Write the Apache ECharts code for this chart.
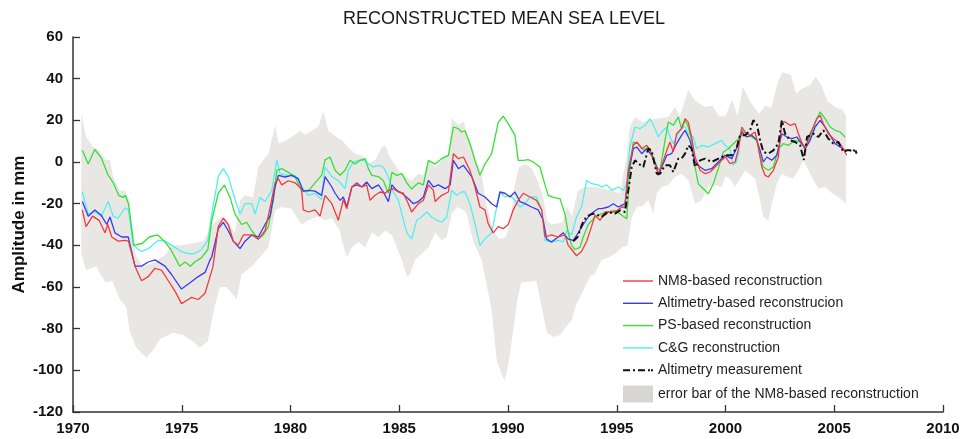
<!DOCTYPE html>
<html>
<head>
<meta charset="utf-8">
<script src="https://cdn.jsdelivr.net/npm/echarts@6/dist/echarts.min.js"></script>
<style>
html,body{margin:0;padding:0;background:#fff;}
#chart{width:962px;height:439px;}
</style>
</head>
<body>
<div id="chart"></div>
<script>
// ---- DATA: [year, mm] ----
const nm8 = [[1970.43,-23],[1970.6,-31],[1970.9,-26],[1971.2,-28],[1971.47,-34],[1971.6,-30],[1971.78,-36],[1972.08,-38],[1972.39,-37.6],[1972.55,-38],[1972.85,-50],[1973.15,-57],[1973.46,-55],[1973.77,-51],[1974.08,-52],[1974.38,-57],[1974.69,-62],[1974.99,-68],[1975.3,-66],[1975.45,-65],[1975.76,-66],[1976.07,-63],[1976.3,-55],[1976.44,-50],[1976.68,-31],[1976.91,-27],[1977.14,-30],[1977.37,-38],[1977.6,-40],[1977.83,-35],[1978.22,-35],[1978.52,-37],[1978.83,-33],[1979.06,-22],[1979.29,-10],[1979.44,-8],[1979.6,-11],[1979.9,-9],[1980.21,-10],[1980.51,-13],[1980.59,-23],[1980.82,-24],[1981.13,-23],[1981.36,-26],[1981.59,-16],[1981.9,-20],[1982.2,-28],[1982.43,-18],[1982.59,-22.4],[1982.82,-12],[1983.05,-10],[1983.28,-12],[1983.5,-11],[1983.66,-18.4],[1983.89,-16],[1984.12,-14.4],[1984.35,-15],[1984.5,-13.6],[1984.73,-12.8],[1984.96,-14.4],[1985.19,-15],[1985.42,-20],[1985.57,-24],[1985.88,-20],[1986.11,-18.4],[1986.34,-11],[1986.57,-13.6],[1986.65,-19],[1986.95,-16],[1987.26,-14.4],[1987.49,4],[1987.72,1.6],[1987.95,2.4],[1988.02,2.4],[1988.25,-4],[1988.48,-12],[1988.71,-21.6],[1988.94,-23],[1989.09,-29.6],[1989.32,-34],[1989.55,-31],[1989.78,-32],[1990.01,-30],[1990.24,-23],[1990.47,-18.4],[1990.7,-15],[1991.01,-16.8],[1991.31,-18.4],[1991.55,-23],[1991.7,-36],[1992.0,-35],[1992.31,-36],[1992.62,-35],[1992.77,-40],[1992.93,-42],[1993.15,-45],[1993.38,-43],[1993.62,-38],[1993.84,-31],[1994.0,-25.6],[1994.23,-28],[1994.46,-24],[1994.69,-24],[1994.92,-24],[1995.23,-21.6],[1995.38,-21.6],[1995.53,-4],[1995.76,8],[1995.92,9.6],[1996.15,6.4],[1996.38,8],[1996.53,5.6],[1996.76,-0.8],[1996.91,-5.6],[1997.07,-1.6],[1997.3,5.6],[1997.45,9.6],[1997.6,4.8],[1997.75,13.6],[1997.98,16],[1998.14,20.8],[1998.29,19],[1998.44,12],[1998.6,2.4],[1998.83,-4],[1999.06,-5.6],[1999.29,-4.8],[1999.52,-2.4],[1999.82,0.8],[2000.0,2.4],[2000.21,-0.8],[2000.44,0],[2000.6,6.4],[2000.75,16.8],[2000.9,14.4],[2001.13,12.8],[2001.36,14.4],[2001.51,7.2],[2001.67,-2.4],[2001.82,-6.4],[2001.97,-7.2],[2002.2,-4],[2002.43,2.4],[2002.59,19.2],[2002.74,19.2],[2002.97,17.6],[2003.2,18.4],[2003.35,13.6],[2003.5,9.6],[2003.66,6.4],[2003.89,13.6],[2004.04,16.8],[2004.2,20.8],[2004.35,22.4],[2004.5,18.4],[2004.73,13.6],[2004.96,11.2],[2005.19,9.6],[2005.42,6.4],[2005.57,3.2]];

const altRecon = [[1970.43,-19],[1970.7,-26],[1971.0,-23],[1971.3,-25.6],[1971.55,-30],[1971.7,-26.4],[1971.93,-34],[1972.24,-36],[1972.54,-36],[1972.85,-50],[1973.15,-50],[1973.46,-48],[1973.77,-47],[1974.23,-50],[1974.53,-54],[1974.99,-61],[1975.38,-58],[1975.76,-55],[1976.07,-53],[1976.3,-47],[1976.38,-45.6],[1976.68,-32],[1976.91,-29],[1977.14,-33],[1977.37,-38],[1977.68,-41.6],[1977.91,-38],[1978.22,-35],[1978.52,-36],[1978.83,-30],[1979.06,-26],[1979.29,-12],[1979.44,-6.4],[1979.75,-7.2],[1980.05,-6.4],[1980.36,-8],[1980.59,-14],[1980.82,-13.6],[1981.13,-14],[1981.43,-16],[1981.59,-7],[1981.9,-12],[1982.05,-15],[1982.28,-18.4],[1982.43,-16.8],[1982.59,-21.6],[1982.82,-12],[1983.05,-11],[1983.28,-12],[1983.5,-9.6],[1983.74,-12.8],[1984.04,-11],[1984.27,-14.4],[1984.5,-19],[1984.66,-11],[1984.89,-13.6],[1985.12,-15],[1985.42,-17.6],[1985.65,-20],[1985.88,-19],[1986.11,-16.8],[1986.34,-8.8],[1986.57,-12],[1986.8,-11],[1987.11,-12.8],[1987.34,-11],[1987.49,0.8],[1987.72,-3.2],[1987.95,-1.6],[1988.02,-0.8],[1988.33,-7],[1988.63,-15],[1988.94,-16.8],[1989.25,-20],[1989.48,-21.6],[1989.63,-14.4],[1989.86,-15],[1990.09,-16.8],[1990.32,-14.4],[1990.55,-19],[1990.78,-20],[1991.08,-21.6],[1991.39,-23],[1991.62,-28],[1991.78,-37],[1992.0,-38.4],[1992.31,-36],[1992.54,-34],[1992.77,-37],[1993.0,-37.6],[1993.23,-34],[1993.46,-30],[1993.69,-26.4],[1993.92,-24],[1994.15,-22.4],[1994.31,-22.4],[1994.61,-21.6],[1994.84,-20],[1995.07,-21.6],[1995.38,-20],[1995.53,-5.6],[1995.76,6.4],[1995.92,7.2],[1996.15,4],[1996.38,6.4],[1996.6,3.2],[1996.84,-2.4],[1996.91,-6.4],[1997.07,-2.4],[1997.3,3.2],[1997.52,4],[1997.75,8.8],[1997.98,12.8],[1998.14,15.2],[1998.37,10.4],[1998.6,0],[1998.83,-2.4],[1999.06,-4],[1999.36,-3.2],[1999.67,0],[1999.98,3.2],[2000.29,1.6],[2000.6,8.8],[2000.75,14.4],[2000.98,12],[2001.21,12.8],[2001.44,10.4],[2001.59,5.6],[2001.74,0],[2001.9,2.4],[2002.13,0.8],[2002.36,3.2],[2002.59,13.6],[2002.82,12],[2003.05,11.2],[2003.28,12],[2003.5,8.8],[2003.66,6.4],[2003.89,10.4],[2004.12,16.8],[2004.35,20],[2004.58,16.8],[2004.81,12.8],[2005.04,8.8],[2005.27,7.2],[2005.5,5.6]];

const psRecon = [[1970.43,5.6],[1970.7,-1],[1971.0,6],[1971.3,2],[1971.6,-6],[1971.85,-10],[1972.1,-16],[1972.3,-17],[1972.4,-16],[1972.55,-20],[1972.7,-32],[1972.8,-40],[1973.2,-39],[1973.5,-36],[1973.9,-35],[1974.2,-38],[1974.5,-42],[1974.9,-50],[1975.15,-48],[1975.4,-50],[1975.6,-48],[1975.9,-46],[1976.2,-42],[1976.38,-28],[1976.68,-15],[1976.96,-11],[1977.22,-17],[1977.45,-25],[1977.75,-30],[1977.99,-29],[1978.22,-33],[1978.52,-37],[1978.75,-35],[1978.98,-31],[1979.22,-18],[1979.37,-4],[1979.6,-3.2],[1979.9,-5],[1980.21,-7],[1980.51,-14],[1980.82,-14],[1981.13,-10],[1981.43,-6.4],[1981.59,1],[1981.82,2.4],[1982.05,-4],[1982.28,-6.4],[1982.51,-4],[1982.74,0.8],[1982.97,-1],[1983.2,0.8],[1983.43,1.6],[1983.58,-3.2],[1983.74,-6.4],[1984.04,-7],[1984.27,-9],[1984.5,-15],[1984.66,-5],[1984.89,-6.4],[1985.12,-5.6],[1985.35,-10],[1985.57,-13],[1985.88,-10],[1986.11,-11],[1986.34,0.8],[1986.65,-1],[1986.95,1.6],[1987.26,3.2],[1987.49,16.8],[1987.72,16],[1987.87,14.4],[1988.02,15],[1988.25,8.8],[1988.48,0.8],[1988.71,-6.4],[1988.94,-1],[1989.25,4],[1989.55,19],[1989.78,22],[1990.01,18.4],[1990.32,12.8],[1990.47,0.8],[1990.7,0.8],[1990.93,1.1],[1991.16,0],[1991.47,-2.4],[1991.7,-11],[1991.85,-16],[1992.08,-17],[1992.39,-17.6],[1992.62,-25],[1992.77,-34],[1992.92,-40],[1993.08,-42],[1993.31,-41],[1993.46,-36],[1993.69,-30],[1994.0,-26.4],[1994.31,-24.8],[1994.61,-24],[1994.92,-23.2],[1995.23,-25.6],[1995.46,-27.2],[1995.6,-4],[1995.76,9.6],[1995.99,8.8],[1996.22,5.6],[1996.45,7.2],[1996.68,2.4],[1996.84,-2.4],[1996.99,-4],[1997.22,10.4],[1997.37,19.2],[1997.6,17.6],[1997.83,21.6],[1997.98,16],[1998.14,20],[1998.29,16.8],[1998.44,10.4],[1998.6,-2.4],[1998.75,-10.4],[1998.98,-12.8],[1999.21,-15.2],[1999.44,-10.4],[1999.67,-3.2],[1999.9,4.8],[2000.13,6.4],[2000.29,8],[2000.6,11.2],[2000.75,15.2],[2000.98,13.6],[2001.21,12],[2001.44,10.4],[2001.59,2.4],[2001.74,-2.4],[2001.97,-4],[2002.2,-2.4],[2002.43,6.4],[2002.66,8.8],[2002.89,8],[2003.2,10.4],[2003.43,9.6],[2003.66,7.2],[2003.89,12],[2004.12,19.2],[2004.35,24],[2004.58,20.8],[2004.81,16.8],[2005.04,15.2],[2005.27,14.4],[2005.5,12]];

const cgRecon = [[1970.43,-14.4],[1970.7,-25],[1971.0,-24],[1971.3,-26],[1971.62,-19],[1971.85,-26],[1972.08,-27],[1972.39,-22],[1972.55,-23],[1972.77,-40],[1973.15,-43],[1973.46,-41.6],[1973.92,-37.6],[1974.23,-38],[1974.69,-41],[1974.99,-43],[1975.3,-44],[1975.6,-44],[1975.91,-42],[1976.2,-37.6],[1976.38,-25],[1976.68,-7],[1976.91,-3.2],[1977.14,-7],[1977.45,-18],[1977.68,-25],[1977.91,-20],[1978.22,-20],[1978.37,-25],[1978.6,-17],[1978.83,-19],[1979.14,-13.6],[1979.37,1],[1979.52,-5.6],[1979.83,-6.4],[1980.21,-6.4],[1980.51,-12],[1980.82,-16],[1981.13,-15],[1981.43,-18],[1981.59,-2.4],[1981.9,-7],[1982.2,-9],[1982.51,-12.8],[1982.66,-4],[1982.89,0],[1983.12,0.8],[1983.35,0.8],[1983.58,-0.8],[1983.81,-2.4],[1984.04,-1.6],[1984.27,-2.4],[1984.5,-7.2],[1984.73,-14.4],[1984.96,-18.4],[1985.12,-25],[1985.35,-34],[1985.57,-37],[1985.8,-28],[1986.03,-26.4],[1986.26,-24],[1986.49,-26.4],[1986.72,-28],[1986.95,-28.8],[1987.18,-26.4],[1987.41,-13.6],[1987.64,-16],[1987.87,-14.4],[1988.02,-14.4],[1988.25,-20],[1988.48,-29.6],[1988.71,-40],[1988.94,-36.8],[1989.25,-34],[1989.48,-21.6],[1989.63,-14.4],[1989.86,-16.8],[1990.09,-16],[1990.32,-18.4],[1990.55,-21.6],[1990.78,-20],[1991.01,-16.8],[1991.31,-16.8],[1991.55,-23],[1991.7,-37.6],[1992.0,-38.4],[1992.31,-37.6],[1992.54,-38.4],[1992.7,-32.8],[1992.93,-35],[1993.15,-26.4],[1993.38,-21.6],[1993.62,-8.8],[1993.84,-10.4],[1994.15,-11],[1994.31,-12],[1994.54,-11],[1994.77,-13.6],[1995.07,-12],[1995.3,-13.6],[1995.46,-10.4],[1995.6,7.2],[1995.84,16.8],[1996.07,16],[1996.3,17.6],[1996.53,20.8],[1996.76,16],[1996.91,12],[1997.07,14.4],[1997.3,16.8],[1997.45,12],[1997.6,8.8],[1997.83,13.6],[1997.98,16.8],[1998.14,16.8],[1998.29,13.6],[1998.52,12],[1998.67,6.4],[1998.9,8],[1999.21,7.2],[1999.52,8.8],[1999.82,10.4],[1999.98,8],[2000.2,6.4],[2000.35,-1.6],[2000.5,0],[2000.65,6]];

const altMeas = [[1993.0,-38],[1993.2,-36],[1993.4,-30],[1993.6,-26.3],[1993.84,-25],[1994.0,-24.8],[1994.3,-26.4],[1994.6,-24],[1994.92,-24.8],[1995.15,-23.2],[1995.38,-24],[1995.53,-13.6],[1995.69,-2.4],[1995.84,0.8],[1996.0,-0.8],[1996.22,-2.4],[1996.45,6.4],[1996.6,5.6],[1996.84,-5.6],[1996.99,-5.6],[1997.22,-1.6],[1997.45,-1.6],[1997.6,-4.8],[1997.83,1.6],[1997.98,1.6],[1998.14,4],[1998.29,8],[1998.44,6.4],[1998.6,-2.4],[1998.83,0.8],[1999.06,1.6],[1999.36,0],[1999.67,1.6],[1999.98,3.2],[2000.29,3.2],[2000.52,7.2],[2000.67,12.8],[2000.9,12.8],[2001.13,15.2],[2001.28,20],[2001.44,18.4],[2001.59,10.4],[2001.74,4.8],[2001.97,4],[2002.2,5.6],[2002.43,8.8],[2002.59,20],[2002.74,13.6],[2002.97,10.4],[2003.2,9.6],[2003.43,8],[2003.6,1],[2003.75,12],[2004.04,13.6],[2004.27,12],[2004.5,15.2],[2004.73,11.2],[2004.96,8.8],[2005.19,9.6],[2005.42,4.8],[2005.57,5.6],[2005.73,5.6],[2005.88,4.8],[2005.95,6.4],[2006.03,4]];

const bandUpper = [[1970.38,23.4],[1970.6,12],[1970.92,7.3],[1971.2,5.6],[1971.5,0.8],[1971.7,1],[1971.84,-7.3],[1972.15,-13.7],[1972.4,-13.7],[1972.6,-18.5],[1972.75,-38],[1972.9,-45],[1973.2,-50],[1973.8,-48],[1974.3,-44],[1974.5,-40],[1975.0,-40],[1975.5,-39],[1976.0,-38],[1976.3,-32],[1976.6,-28],[1976.9,-26],[1977.2,-30],[1977.45,-34],[1977.67,-18.5],[1977.9,-16],[1978.28,-17],[1978.52,-2.4],[1978.75,1],[1978.98,4],[1979.29,17.6],[1979.45,9],[1979.75,10],[1980.05,12],[1980.44,15],[1980.67,13],[1980.98,15],[1981.28,17],[1981.51,24],[1981.74,15],[1982.12,12],[1982.36,10.4],[1982.66,7],[1982.97,4],[1983.3,3],[1983.58,-0.8],[1983.9,1],[1984.2,7.2],[1984.35,8],[1984.5,4],[1984.66,0.8],[1984.96,-4],[1985.27,-7],[1985.57,-9],[1985.88,-5.6],[1986.11,-6.4],[1986.34,0.8],[1986.65,-2.4],[1986.95,0.8],[1987.26,4],[1987.41,21],[1987.72,17.6],[1987.95,19.5],[1988.25,10],[1988.5,2.4],[1988.79,-6.4],[1989.0,-20],[1989.3,-33],[1989.6,-37],[1989.9,-36],[1990.1,-30],[1990.3,-12],[1990.5,-2.4],[1990.8,-1],[1991.1,-3.2],[1991.4,-10],[1991.6,-16],[1991.8,-28],[1992.0,-30],[1992.5,-29],[1992.7,-21.6],[1992.95,-26],[1993.2,-14],[1993.5,-12],[1994.0,-12],[1994.5,-13],[1995.15,-15],[1995.45,2.4],[1995.6,16.8],[1995.84,21.6],[1996.2,19],[1996.45,20],[1996.9,21],[1997.37,21.6],[1997.68,26.4],[1997.9,22],[1998.29,34.4],[1998.6,29.6],[1999.05,26.4],[1999.4,27],[1999.7,22],[2000.0,22],[2000.3,30],[2000.55,22],[2000.8,36],[2001.2,28],[2001.55,23],[2001.8,27],[2002.1,26],[2002.4,38],[2002.6,43],[2003.0,42],[2003.25,33],[2003.5,35],[2003.9,37],[2004.15,41],[2004.4,37],[2004.7,29],[2005.1,26],[2005.4,25],[2005.54,22]];

const bandLower = [[1970.38,-44],[1970.6,-52],[1971.05,-50],[1971.5,-58],[1971.8,-57],[1972.15,-66],[1972.45,-69.5],[1972.6,-81],[1972.9,-89],[1973.37,-94],[1973.7,-90],[1974.0,-85],[1974.6,-82],[1975.06,-83],[1975.5,-86],[1975.83,-89],[1976.2,-86],[1976.5,-70],[1976.75,-60],[1977.05,-60],[1977.3,-63],[1977.53,-66],[1977.75,-54],[1978.22,-50],[1978.6,-45.6],[1978.98,-41],[1979.3,-23],[1979.6,-21.6],[1980.05,-22.4],[1980.51,-30],[1980.82,-28],[1981.28,-26],[1981.59,-28],[1981.9,-27],[1982.28,-33],[1982.36,-37.6],[1982.59,-45.6],[1982.82,-41],[1983.12,-38.4],[1983.43,-41],[1983.74,-34],[1984.04,-36],[1984.35,-33],[1984.66,-35],[1984.89,-41],[1985.12,-47],[1985.35,-55],[1985.5,-53.6],[1985.73,-47],[1986.03,-44],[1986.34,-41],[1986.65,-34],[1986.95,-37.6],[1987.18,-36],[1987.41,-25],[1987.64,-21.6],[1987.95,-23],[1988.1,-25],[1988.4,-38],[1988.79,-47],[1988.94,-55],[1989.25,-71],[1989.48,-95],[1989.75,-103],[1989.86,-104.7],[1990.05,-95],[1990.25,-80],[1990.4,-68],[1990.6,-58],[1991.3,-57],[1991.55,-70],[1991.8,-82],[1992.1,-84],[1992.39,-83],[1992.6,-80],[1992.93,-76],[1993.15,-68],[1993.4,-63],[1993.77,-55],[1994.0,-53.6],[1994.3,-47],[1994.6,-46],[1994.92,-44],[1995.23,-41],[1995.5,-40],[1995.69,-26.4],[1995.92,-21.6],[1996.2,-21],[1996.45,-18.4],[1996.68,-24.8],[1996.84,-15],[1997.07,-12],[1997.37,-11],[1997.68,-7.2],[1997.98,-5.6],[1998.29,-8.8],[1998.6,-20],[1998.9,-18.4],[1999.21,-12],[1999.52,-11],[1999.82,-12],[2000.0,-7],[2000.2,-8],[2000.44,-12],[2000.9,-4],[2001.36,-8],[2001.59,-18.4],[2001.74,-26.4],[2001.97,-28],[2002.13,-20],[2002.36,-10.4],[2002.59,-5.6],[2002.82,-7],[2003.1,-8],[2003.35,-4],[2003.58,0.8],[2003.81,-4],[2004.04,-8.8],[2004.27,-12.8],[2004.58,-12],[2004.9,-15],[2005.19,-16.8],[2005.54,-20]];

const seriesNames = ['NM8-based reconstruction','Altimetry-based reconstrucion','PS-based reconstruction','C&G reconstruction','Altimetry measurement','error bar of the NM8-based reconstruction'];
const titleText = 'RECONSTRUCTED MEAN SEA LEVEL';
const yAxisName = 'Amplitude in mm';

// ---- STYLE ----
const FONT = '"Liberation Sans", Arial, Helvetica, sans-serif';
const C_RED = '#f23b3b', C_BLUE = '#3a3af0', C_GREEN = '#35e035', C_CYAN = '#4ff0f0', C_BLACK = '#111111';
const C_BAND = '#e8e7e4', C_BAND_LEG = '#d8d6d1';
const ICON_LINE = 'path://M0,0h30v1.4h-30z';
const ICON_DASHDOT = 'path://M0,0h7v2h-7z M10,0h2v2h-2z M15,0h7v2h-7z M25,0h2v2h-2z M28,0h2v2h-2z';

const chart = echarts.init(document.getElementById('chart'), null, {renderer: 'canvas'});

function lineSeries(name, data, color, extra) {
  return Object.assign({
    name: name, type: 'line', data: data, showSymbol: false, symbol: 'none',
    lineStyle: {color: color, width: 1.3}, itemStyle: {color: color},
    animation: false, silent: true
  }, extra || {});
}

const option = {
  backgroundColor: '#ffffff',
  animation: false,
  title: {
    text: titleText, left: 343, top: 10, padding: 0,
    textStyle: {fontFamily: FONT, fontSize: 18, fontWeight: 'normal', color: '#1a1a1a'}
  },
  grid: {left: 73, right: 19, top: 37, bottom: 27, containLabel: false, outerBoundsMode: 'none'},
  legend: {
    orient: 'vertical', left: 623, top: 274, padding: 0,
    itemWidth: 30, itemHeight: 17, itemGap: 8.3, symbolKeepAspect: true,
    textStyle: {fontFamily: FONT, fontSize: 14, color: '#1e1e1e'},
    data: [
      {name: seriesNames[0], icon: ICON_LINE},
      {name: seriesNames[1], icon: ICON_LINE},
      {name: seriesNames[2], icon: ICON_LINE},
      {name: seriesNames[3], icon: ICON_LINE},
      {name: seriesNames[4], icon: ICON_DASHDOT},
      {name: seriesNames[5], icon: 'rect', itemStyle: {color: C_BAND_LEG}}
    ],
    selectedMode: false
  },
  xAxis: {
    type: 'value', min: 1970, max: 2010, interval: 5,
    axisLine: {show: true, onZero: false, lineStyle: {color: '#333', width: 1.5}},
    axisTick: {show: true, inside: true, length: 7, lineStyle: {color: '#333', width: 1.3}},
    splitLine: {show: false},
    axisLabel: {fontFamily: FONT, fontSize: 15, fontWeight: 'bold', color: '#111', margin: 9,
      formatter: function (v) { return String(v); }}
  },
  yAxis: {
    type: 'value', min: -120, max: 60, interval: 20,
    name: yAxisName, nameLocation: 'middle', nameGap: 45, nameRotate: 90, nameMoveOverlap: false,
    nameTextStyle: {fontFamily: FONT, fontSize: 17, fontWeight: 'bold', color: '#111'},
    axisLine: {show: true, onZero: false, lineStyle: {color: '#333', width: 1.5}},
    axisTick: {show: true, inside: true, length: 7, lineStyle: {color: '#333', width: 1.3}},
    splitLine: {show: false},
    axisLabel: {fontFamily: FONT, fontSize: 15, fontWeight: 'bold', color: '#111', margin: 10}
  },
  series: [
    {
      name: seriesNames[5], type: 'custom', data: [[1990, 0]], silent: true, animation: false,
      itemStyle: {color: C_BAND_LEG},
      renderItem: function (params, api) {
        const pts = bandUpper.map(function (p) { return api.coord(p); })
          .concat(bandLower.slice().reverse().map(function (p) { return api.coord(p); }));
        return {type: 'polygon', shape: {points: pts}, style: {fill: C_BAND}};
      }
    },
    lineSeries(seriesNames[3], cgRecon, C_CYAN),
    lineSeries(seriesNames[2], psRecon, C_GREEN),
    lineSeries(seriesNames[1], altRecon, C_BLUE),
    lineSeries(seriesNames[0], nm8, C_RED),
    lineSeries(seriesNames[4], altMeas, C_BLACK, {lineStyle: {color: C_BLACK, width: 2, type: [7, 3, 2, 3]}})
  ]
};
chart.setOption(option);
</script>
</body>
</html>
